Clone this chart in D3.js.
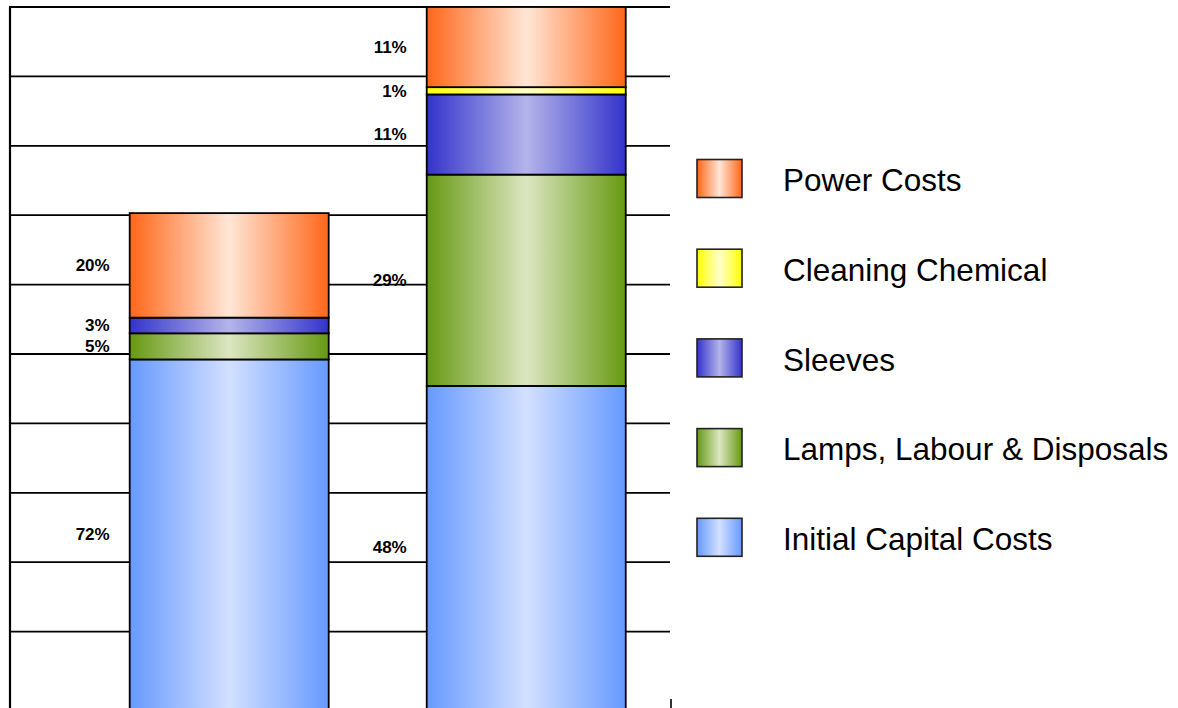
<!DOCTYPE html>
<html>
<head>
<meta charset="utf-8">
<script src="https://cdn.jsdelivr.net/npm/d3@7"></script>
<style>
  html, body { margin: 0; padding: 0; background: #fff; overflow: hidden; }
  svg { display: block; }
</style>
</head>
<body>
<svg id="chart" width="1178" height="708"></svg>
<script>
// Lifetime cost of two UV systems, split by cost component (shares in %).
const systems = ["System 1", "System 2"];
const seriesNames = ["Initial Capital Costs", "Lamps, Labour & Disposals", "Sleeves", "Cleaning Chemical", "Power Costs"];
const lifetimeCost = [75.3, 105];          // total cost per system (k)
const initialCapitalShare = [72, 48];
const lampsLabourShare = [5, 29];
const sleevesShare = [3, 11];
const cleaningShare = [0, 1];
const powerShare = [20, 11];
const gridValues = [15, 25, 35, 45, 55, 65, 75, 85, 95, 105];

// Gradient colours per series: [edge, centre]
const seriesColors = [
  ["#6699ff", "#d3e0ff"],
  ["#669911", "#dce6c2"],
  ["#3333cc", "#b4b4eb"],
  ["#ffff00", "#ffffcc"],
  ["#ff6619", "#ffe6d6"]
];

const shares = [initialCapitalShare, lampsLabourShare, sleevesShare, cleaningShare, powerShare];
const table = systems.map((s, i) => {
  const row = { system: s };
  seriesNames.forEach((n, j) => { row[n] = lifetimeCost[i] * shares[j][i] / 100; });
  return row;
});
const layers = d3.stack().keys(seriesNames)(table);

const W = 1178, H = 708;
const plot = { left: 10, right: 670 };
const svg = d3.select("#chart");

const x = d3.scaleBand()
  .domain(systems)
  .range([plot.left, plot.right])
  .paddingInner(0.33)
  .paddingOuter(0.276)
  .align(0.73);
const y = d3.scaleLinear().domain([0, 105]).range([735.7, 7]);

// Horizontal fills: dark edges, light centre
const defs = svg.append("defs");
seriesColors.forEach((c, j) => {
  const g = defs.append("linearGradient")
    .attr("id", "grad" + j)
    .attr("x1", 0).attr("x2", 1).attr("y1", 0).attr("y2", 0);
  g.append("stop").attr("offset", "0%").attr("stop-color", c[0]);
  g.append("stop").attr("offset", "50%").attr("stop-color", c[1]);
  g.append("stop").attr("offset", "100%").attr("stop-color", c[0]);
});

// Gridlines
svg.append("g").selectAll("line")
  .data(gridValues)
  .join("line")
  .attr("x1", plot.left).attr("x2", plot.right)
  .attr("y1", d => y(d)).attr("y2", d => y(d))
  .attr("stroke", "#000").attr("stroke-width", 1.8);

// Value axis line
svg.append("line")
  .attr("x1", plot.left).attr("x2", plot.left)
  .attr("y1", y(105) - 0.9).attr("y2", H)
  .attr("stroke", "#000").attr("stroke-width", 2.2);

// End tick of the category axis
svg.append("line")
  .attr("x1", plot.right + 1).attr("x2", plot.right + 1)
  .attr("y1", H - 9).attr("y2", H)
  .attr("stroke", "#000").attr("stroke-width", 1.6);

// Stacked segments
layers.forEach((layer, j) => {
  svg.append("g").selectAll("rect")
    .data(layer.filter(d => d[1] - d[0] > 0))
    .join("rect")
    .attr("x", d => x(d.data.system))
    .attr("width", x.bandwidth())
    .attr("y", d => y(d[1]))
    .attr("height", d => y(d[0]) - y(d[1]))
    .attr("fill", "url(#grad" + j + ")")
    .attr("stroke", "#000")
    .attr("stroke-width", 1.8);
});

// Percentage labels to the left of each bar
layers.forEach((layer, j) => {
  svg.append("g").selectAll("text")
    .data(layer.map((d, i) => ({ d, i })).filter(o => shares[j][o.i] > 0))
    .join("text")
    .attr("x", o => x(o.d.data.system) - 20)
    .attr("y", o => (y(o.d[1]) + Math.min(y(o.d[0]), H)) / 2)
    .attr("dy", "0.35em")
    .attr("text-anchor", "end")
    .attr("font-family", "'Liberation Sans', Arial, sans-serif")
    .attr("font-weight", "bold")
    .attr("font-size", 17)
    .attr("fill", "#000")
    .text(o => shares[j][o.i] + "%");
});

// Legend, top entry = top of the stack
const legendOrder = d3.range(seriesNames.length).reverse();
const legend = svg.append("g").selectAll("g")
  .data(legendOrder)
  .join("g")
  .attr("transform", (j, k) => `translate(697,${178.5 + k * 89.7})`);
legend.append("rect")
  .attr("x", 0).attr("y", -19)
  .attr("width", 45).attr("height", 38)
  .attr("fill", j => "url(#grad" + j + ")")
  .attr("stroke", "#222").attr("stroke-width", 1.6);
legend.append("text")
  .attr("x", 86).attr("y", 12.6)
  .attr("font-family", "'Liberation Sans', Arial, sans-serif")
  .attr("font-size", 31.5)
  .attr("fill", "#000")
  .text(j => seriesNames[j]);
</script>
</body>
</html>
